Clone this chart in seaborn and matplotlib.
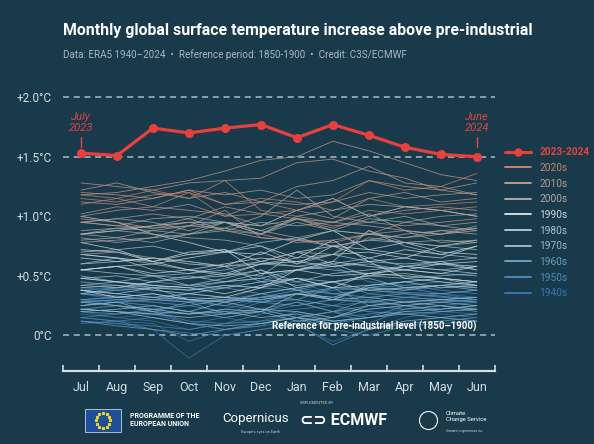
import matplotlib
matplotlib.use("Agg")
import matplotlib.pyplot as plt
from matplotlib.lines import Line2D
from matplotlib.patches import Rectangle
import numpy as np
import pandas as pd
import seaborn as sns

# months of the Jul-Jun "season"
months = ["Jul", "Aug", "Sep", "Oct", "Nov", "Dec", "Jan", "Feb", "Mar", "Apr", "May", "Jun"]

# 2023-2024 highlighted season (degC above 1850-1900)
season_2023_24 = [1.53, 1.51, 1.74, 1.70, 1.74, 1.77, 1.66, 1.77, 1.68, 1.58, 1.52, 1.50]

# past seasons, one row per Jul-Jun season, grouped by decade
s1940s = [
    [0.35, 0.30, 0.28, 0.25, 0.30, 0.40, 0.45, 0.40, 0.42, 0.45, 0.40, 0.42],
    [0.45, 0.40, 0.38, 0.35, 0.40, 0.50, 0.45, 0.35, 0.38, 0.40, 0.35, 0.32],
    [0.30, 0.25, 0.20, 0.10, 0.15, 0.20, 0.25, 0.30, 0.28, 0.30, 0.28, 0.30],
    [0.28, 0.25, 0.22, 0.18, 0.22, 0.30, 0.35, 0.32, 0.30, 0.38, 0.40, 0.42],
    [0.40, 0.38, 0.35, 0.30, 0.28, 0.32, 0.30, 0.25, 0.35, 0.40, 0.35, 0.30],
    [0.30, 0.28, 0.25, 0.20, 0.15, 0.10, 0.15, 0.20, 0.22, 0.25, 0.20, 0.18],
    [0.15, 0.12, 0.10, -0.05, 0.05, 0.10, 0.15, 0.10, 0.18, 0.22, 0.25, 0.22],
    [0.20, 0.15, 0.18, 0.10, 0.05, 0.08, 0.20, 0.12, 0.05, 0.15, 0.20, 0.22],
    [0.18, 0.15, 0.12, 0.05, 0.10, 0.12, 0.20, 0.15, 0.18, 0.20, 0.18, 0.15],
    [0.12, 0.10, 0.05, -0.19, 0.00, 0.05, 0.08, -0.05, 0.05, 0.10, 0.12, 0.15],
]
s1950s = [
    [0.10, 0.12, 0.15, 0.10, 0.05, 0.08, 0.12, 0.10, 0.15, 0.25, 0.28, 0.30],
    [0.30, 0.32, 0.35, 0.30, 0.28, 0.32, 0.35, 0.30, 0.28, 0.32, 0.30, 0.28],
    [0.25, 0.28, 0.25, 0.20, 0.18, 0.28, 0.35, 0.38, 0.40, 0.42, 0.38, 0.35],
    [0.35, 0.32, 0.30, 0.28, 0.25, 0.22, 0.15, 0.20, 0.15, 0.18, 0.15, 0.12],
    [0.12, 0.10, 0.08, 0.05, 0.10, 0.12, 0.15, 0.05, 0.00, 0.08, 0.10, 0.12],
    [0.15, 0.12, 0.05, 0.02, 0.00, 0.05, 0.10, -0.08, 0.05, 0.10, 0.12, 0.15],
    [0.15, 0.18, 0.20, 0.12, 0.10, 0.18, 0.22, 0.25, 0.28, 0.32, 0.35, 0.38],
    [0.38, 0.40, 0.42, 0.38, 0.40, 0.45, 0.55, 0.58, 0.45, 0.42, 0.45, 0.40],
    [0.38, 0.35, 0.32, 0.28, 0.30, 0.35, 0.40, 0.35, 0.38, 0.35, 0.32, 0.30],
    [0.28, 0.30, 0.28, 0.25, 0.20, 0.22, 0.28, 0.20, 0.10, 0.22, 0.25, 0.28],
]
s1960s = [
    [0.28, 0.30, 0.32, 0.30, 0.25, 0.32, 0.35, 0.40, 0.38, 0.36, 0.35, 0.38],
    [0.35, 0.33, 0.30, 0.28, 0.30, 0.32, 0.38, 0.35, 0.32, 0.35, 0.33, 0.30],
    [0.30, 0.32, 0.30, 0.35, 0.32, 0.28, 0.30, 0.40, 0.25, 0.28, 0.30, 0.32],
    [0.35, 0.40, 0.45, 0.42, 0.40, 0.35, 0.30, 0.25, 0.20, 0.18, 0.15, 0.12],
    [0.12, 0.08, 0.05, 0.00, 0.05, 0.10, 0.15, 0.12, 0.15, 0.18, 0.20, 0.22],
    [0.25, 0.28, 0.30, 0.32, 0.30, 0.28, 0.25, 0.30, 0.28, 0.25, 0.22, 0.25],
    [0.22, 0.20, 0.18, 0.20, 0.15, 0.20, 0.28, 0.20, 0.25, 0.22, 0.25, 0.20],
    [0.22, 0.25, 0.20, 0.28, 0.18, 0.22, 0.15, 0.20, 0.30, 0.25, 0.20, 0.22],
    [0.20, 0.18, 0.22, 0.25, 0.30, 0.28, 0.35, 0.30, 0.40, 0.45, 0.48, 0.45],
    [0.45, 0.42, 0.40, 0.38, 0.42, 0.40, 0.38, 0.45, 0.35, 0.32, 0.30, 0.28],
]
s1970s = [
    [0.28, 0.25, 0.22, 0.18, 0.20, 0.15, 0.18, 0.12, 0.15, 0.20, 0.22, 0.25],
    [0.22, 0.20, 0.18, 0.15, 0.18, 0.20, 0.12, 0.15, 0.25, 0.28, 0.30, 0.32],
    [0.35, 0.38, 0.40, 0.42, 0.45, 0.48, 0.55, 0.58, 0.60, 0.55, 0.52, 0.50],
    [0.48, 0.45, 0.40, 0.30, 0.28, 0.22, 0.20, 0.15, 0.22, 0.25, 0.28, 0.25],
    [0.25, 0.28, 0.20, 0.18, 0.22, 0.20, 0.35, 0.30, 0.32, 0.28, 0.25, 0.22],
    [0.22, 0.20, 0.15, 0.10, 0.08, 0.10, 0.15, 0.10, 0.05, 0.12, 0.15, 0.18],
    [0.20, 0.22, 0.25, 0.20, 0.28, 0.35, 0.40, 0.45, 0.50, 0.48, 0.50, 0.52],
    [0.50, 0.45, 0.42, 0.40, 0.45, 0.48, 0.42, 0.45, 0.48, 0.40, 0.42, 0.38],
    [0.38, 0.35, 0.32, 0.35, 0.40, 0.45, 0.38, 0.30, 0.42, 0.45, 0.40, 0.42],
    [0.42, 0.45, 0.50, 0.52, 0.55, 0.62, 0.58, 0.55, 0.52, 0.58, 0.60, 0.55],
]
s1980s = [
    [0.55, 0.52, 0.50, 0.48, 0.52, 0.50, 0.70, 0.60, 0.65, 0.58, 0.55, 0.52],
    [0.55, 0.58, 0.50, 0.42, 0.48, 0.55, 0.40, 0.45, 0.38, 0.40, 0.42, 0.45],
    [0.42, 0.40, 0.45, 0.48, 0.50, 0.60, 0.65, 0.68, 0.62, 0.60, 0.62, 0.55],
    [0.60, 0.65, 0.55, 0.52, 0.58, 0.45, 0.48, 0.40, 0.42, 0.45, 0.48, 0.42],
    [0.40, 0.42, 0.38, 0.35, 0.32, 0.30, 0.35, 0.32, 0.40, 0.38, 0.42, 0.40],
    [0.38, 0.35, 0.40, 0.38, 0.42, 0.40, 0.48, 0.45, 0.50, 0.52, 0.48, 0.45],
    [0.48, 0.50, 0.45, 0.50, 0.45, 0.52, 0.55, 0.60, 0.50, 0.58, 0.62, 0.65],
    [0.70, 0.72, 0.75, 0.68, 0.70, 0.78, 0.82, 0.75, 0.80, 0.78, 0.75, 0.72],
    [0.68, 0.65, 0.60, 0.55, 0.50, 0.55, 0.45, 0.52, 0.55, 0.58, 0.55, 0.58],
    [0.60, 0.62, 0.65, 0.62, 0.58, 0.60, 0.58, 0.62, 0.88, 0.75, 0.68, 0.65],
]
s1990s = [
    [0.68, 0.65, 0.62, 0.70, 0.72, 0.62, 0.70, 0.75, 0.65, 0.72, 0.68, 0.75],
    [0.78, 0.72, 0.62, 0.55, 0.52, 0.60, 0.62, 0.58, 0.62, 0.48, 0.45, 0.42],
    [0.38, 0.32, 0.35, 0.30, 0.32, 0.40, 0.55, 0.50, 0.52, 0.50, 0.48, 0.45],
    [0.48, 0.45, 0.42, 0.40, 0.35, 0.42, 0.48, 0.40, 0.52, 0.55, 0.52, 0.58],
    [0.55, 0.58, 0.60, 0.65, 0.70, 0.68, 0.80, 0.88, 0.72, 0.68, 0.65, 0.75],
    [0.72, 0.70, 0.62, 0.68, 0.72, 0.52, 0.55, 0.62, 0.58, 0.55, 0.60, 0.58],
    [0.55, 0.58, 0.52, 0.55, 0.60, 0.65, 0.62, 0.68, 0.70, 0.65, 0.75, 0.80],
    [0.85, 0.88, 0.92, 0.95, 0.95, 0.92, 1.05, 1.15, 1.00, 1.08, 1.05, 1.00],
    [1.00, 0.95, 0.85, 0.78, 0.70, 0.75, 0.65, 0.80, 0.62, 0.65, 0.60, 0.62],
    [0.65, 0.62, 0.65, 0.60, 0.58, 0.70, 0.60, 0.75, 0.72, 0.78, 0.70, 0.68],
]
s2000s = [
    [0.68, 0.70, 0.65, 0.62, 0.58, 0.62, 0.70, 0.68, 0.82, 0.78, 0.80, 0.78],
    [0.80, 0.82, 0.78, 0.85, 0.95, 0.88, 0.98, 0.95, 1.02, 0.88, 0.85, 0.88],
    [0.85, 0.82, 0.88, 0.85, 0.90, 0.85, 0.98, 0.88, 0.85, 0.82, 0.88, 0.85],
    [0.85, 0.90, 0.92, 0.98, 0.88, 0.95, 0.92, 0.95, 0.92, 0.88, 0.78, 0.80],
    [0.78, 0.80, 0.82, 0.92, 0.95, 0.85, 0.95, 0.88, 0.98, 0.95, 0.92, 0.95],
    [0.95, 0.92, 0.98, 1.00, 0.95, 0.88, 0.82, 0.88, 0.85, 0.82, 0.85, 0.90],
    [0.88, 0.90, 0.88, 0.92, 0.90, 1.00, 1.22, 1.00, 0.95, 1.00, 0.92, 0.88],
    [0.85, 0.88, 0.85, 0.82, 0.80, 0.75, 0.60, 0.68, 0.88, 0.78, 0.75, 0.78],
    [0.82, 0.78, 0.82, 0.85, 0.88, 0.82, 0.80, 0.75, 0.80, 0.85, 0.88, 0.90],
    [0.95, 0.98, 0.95, 0.88, 0.95, 0.85, 1.00, 1.05, 1.10, 1.08, 1.05, 1.00],
]
s2010s = [
    [0.98, 0.95, 0.90, 0.92, 1.05, 0.82, 0.80, 0.78, 0.85, 0.88, 0.85, 0.92],
    [0.95, 0.92, 0.90, 0.95, 0.88, 0.85, 0.78, 0.80, 0.85, 0.95, 1.00, 1.02],
    [1.00, 1.05, 1.08, 1.05, 1.02, 0.92, 0.98, 0.92, 0.95, 0.92, 0.95, 0.98],
    [0.95, 0.98, 1.02, 0.98, 1.08, 1.02, 0.98, 0.90, 1.00, 1.05, 1.08, 1.05],
    [1.02, 1.08, 1.05, 1.10, 1.00, 1.12, 1.10, 1.12, 1.20, 1.15, 1.18, 1.20],
    [1.18, 1.20, 1.25, 1.30, 1.38, 1.47, 1.50, 1.63, 1.55, 1.45, 1.35, 1.30],
    [1.22, 1.28, 1.20, 1.15, 1.20, 1.12, 1.25, 1.30, 1.42, 1.28, 1.25, 1.18],
    [1.20, 1.18, 1.15, 1.22, 1.10, 1.12, 1.05, 0.98, 1.15, 1.20, 1.12, 1.15],
    [1.12, 1.10, 1.15, 1.22, 1.18, 1.22, 1.15, 1.18, 1.30, 1.25, 1.22, 1.28],
    [1.28, 1.25, 1.22, 1.28, 1.30, 1.32, 1.45, 1.48, 1.38, 1.32, 1.22, 1.18],
]
s2020s = [
    [1.18, 1.15, 1.22, 1.15, 1.30, 1.05, 1.00, 0.95, 1.05, 1.02, 1.05, 1.08],
    [1.15, 1.12, 1.18, 1.20, 1.10, 1.15, 1.12, 1.05, 1.15, 1.08, 1.10, 1.12],
    [1.10, 1.15, 1.08, 1.20, 1.00, 1.02, 1.05, 1.12, 1.30, 1.22, 1.25, 1.36],
]

decades = ["1940s", "1950s", "1960s", "1970s", "1980s", "1990s", "2000s", "2010s", "2020s"]
decade_colors = ["#3b76aa", "#4d89b6", "#6a9fc2", "#94bacb", "#aac4d0",
                 "#d2d9dc", "#aeaaa5", "#c2968a", "#c98469"]

bg = "#183a4b"
red = "#e8413c"
light = "#d3dde2"

# long table for seaborn
rows = []
for dec, seasons in zip(decades, [s1940s, s1950s, s1960s, s1970s, s1980s,
                                  s1990s, s2000s, s2010s, s2020s]):
    for i, vals in enumerate(seasons):
        for m, v in enumerate(vals):
            rows.append({"decade": dec, "season": f"{dec}-{i}", "m": m, "anom": v})
df = pd.DataFrame(rows)
hl = pd.DataFrame({"m": range(len(months)), "anom": season_2023_24})

sns.set_theme(style="white")
plt.rcParams["font.family"] = ["Roboto", "DejaVu Sans"]

fig = plt.figure(figsize=(5.94, 4.44), dpi=100, facecolor=bg)
ax = fig.add_axes([0.106, 0.164, 0.727, 0.644])
ax.set_facecolor(bg)

palette = dict(zip(decades, decade_colors))
sns.lineplot(data=df, x="m", y="anom", hue="decade", units="season", estimator=None,
             hue_order=decades, palette=palette, lw=0.6, alpha=0.8, legend=False, ax=ax)

for yv in [0, 1.5, 2.0]:
    ax.axhline(yv, color="#a9bfca", lw=1.1, ls=(0, (4, 3)), zorder=1)

sns.lineplot(data=hl, x="m", y="anom", color=red, lw=2.3, marker="o", markersize=6.5,
             markeredgewidth=0, ax=ax, zorder=5)

ax.set_xlim(-0.5, 11.5)
ax.set_ylim(-0.30, 2.10)
ax.set_xlabel("")
ax.set_ylabel("")
ax.set_xticks(range(len(months)))
ax.set_xticklabels(months)
ax.set_xticks(np.arange(-0.5, 12, 1), minor=True)
ax.tick_params(axis="x", which="major", bottom=True, length=0, pad=7, labelsize=9,
               labelcolor=light)
ax.tick_params(axis="x", which="minor", bottom=True, length=4, width=1.2, direction="in",
               color=light)
ax.set_yticks([0, 0.5, 1.0, 1.5, 2.0])
ax.set_yticklabels(["0°C", "+0.5°C", "+1.0°C", "+1.5°C", "+2.0°C"])
ax.tick_params(axis="y", length=0, pad=8, labelsize=8.5, labelcolor=light)
for side in ["top", "right", "left"]:
    ax.spines[side].set_visible(False)
ax.spines["bottom"].set_color(light)
ax.spines["bottom"].set_linewidth(1.6)

# annotations
for xm, txt in [(0, "July\n2023"), (11, "June\n2024")]:
    ax.plot([xm, xm], [1.585, 1.665], color=red, lw=1.0)
    ax.text(xm, 1.70, txt, color=red, fontsize=8, style="italic",
            ha="center", va="bottom", linespacing=1.15)
ax.text(11, 0.075, "Reference for pre-industrial level (1850\u20131900)", color="white",
        fontsize=7, fontweight="bold", ha="right", va="center")

# legend
handles = [Line2D([], [], color=red, lw=2.2, marker="o", markersize=5)]
labels = ["2023-2024"]
for dec, col in zip(decades[::-1], decade_colors[::-1]):
    handles.append(Line2D([], [], color=col, lw=1.4))
    labels.append(dec)
leg = ax.legend(handles, labels, loc="upper left", bbox_to_anchor=(1.023, 0.783),
                borderaxespad=0, borderpad=0, frameon=False, fontsize=7.3,
                handlelength=2.6, handletextpad=0.8, labelspacing=0.56,
                labelcolor="linecolor")
leg.get_texts()[0].set_fontweight("bold")

# titles
fig.text(0.106, 0.932, "Monthly global surface temperature increase above pre-industrial",
         color="white", fontsize=11.4, fontweight="bold", va="center")
fig.text(0.106, 0.878, "Data: ERA5 1940\u20132024  \u2022  Reference period: 1850-1900  \u2022  Credit: C3S/ECMWF",
         color="#a9b7bf", fontsize=7.1, va="center")

# footer logos (text approximations)
fig.patches.append(Rectangle((0.143, 0.027), 0.061, 0.052, transform=fig.transFigure,
                             facecolor="#1d4f9c", edgecolor="#c8d0d4", lw=0.6))
ang = np.linspace(0, 2 * np.pi, 12, endpoint=False)
fig.add_artist(Line2D(0.1735 + 0.012 * np.cos(ang), 0.053 + 0.016 * np.sin(ang),
                      transform=fig.transFigure, ls="none", marker="*", markersize=2,
                      color="#f2d21b"))
fig.text(0.219, 0.054, "PROGRAMME OF THE\nEUROPEAN UNION", color="white", fontsize=5,
         fontweight="bold", va="center", linespacing=1.1)
fig.text(0.374, 0.058, "Copernicus", color="white", fontsize=9.5, va="center")
fig.text(0.405, 0.028, "Europe's eyes on Earth", color="#c8d0d4", fontsize=2.8, va="center")
fig.text(0.505, 0.092, "IMPLEMENTED BY", color="#c8d0d4", fontsize=2.8, va="center")
fig.text(0.505, 0.053, "\u2282\u2283 ECMWF", color="white", fontsize=11.5, fontweight="bold",
         va="center")
fig.add_artist(Line2D([0.721], [0.055], transform=fig.transFigure, ls="none", marker="o",
                      markersize=13, fillstyle="none", markeredgecolor="white",
                      markeredgewidth=0.8))
fig.text(0.75, 0.062, "Climate\nChange Service", color="white", fontsize=4.2, va="center",
         linespacing=1.1)
fig.text(0.75, 0.030, "climate.copernicus.eu", color="#c8d0d4", fontsize=2.8, va="center")

fig.savefig("out.png", dpi=100, facecolor=bg)
